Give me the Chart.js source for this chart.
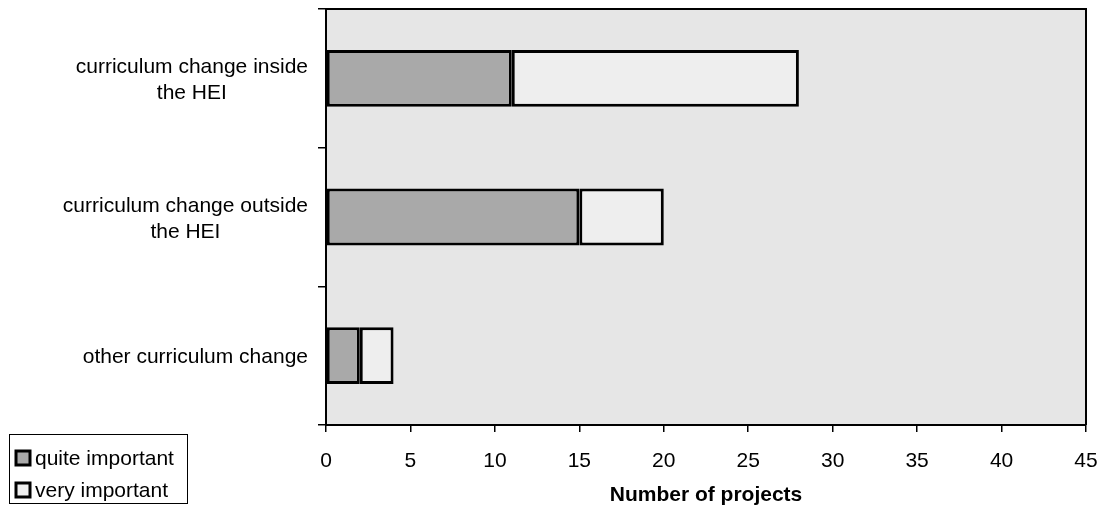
<!DOCTYPE html>
<html>
<head>
<meta charset="utf-8">
<script src="https://cdn.jsdelivr.net/npm/chart.js@4/dist/chart.umd.min.js"></script>
<style>
  html, body { margin: 0; padding: 0; background: #fff; }
  #wrap { width: 1105px; height: 507px; }
</style>
</head>
<body>
<div id="wrap"><canvas id="projChart" width="1105" height="507"></canvas></div>
<script>
// chart data
const categories = [
  ['curriculum change inside', 'the HEI'],
  ['curriculum change outside', 'the HEI'],
  ['other curriculum change']
];
const quiteImportant = [11, 15, 2];
const veryImportant = [17, 5, 2];
const xTicks = [0, 5, 10, 15, 20, 25, 30, 35, 40, 45];
const seriesNames = ['quite important', 'very important'];
const axisTitle = 'Number of projects';

const FONT = 'Liberation Sans, Arial, Helvetica, sans-serif';

// grey plot background + top/right frame
const framePlugin = {
  id: 'frame',
  beforeDraw(chart) {
    const a = chart.chartArea, ctx = chart.ctx;
    ctx.save();
    ctx.fillStyle = '#e6e6e6';
    ctx.fillRect(a.left, a.top, a.right - a.left, a.bottom - a.top);
    ctx.restore();
  },
  afterDraw(chart) {
    const a = chart.chartArea, ctx = chart.ctx;
    ctx.save();
    ctx.strokeStyle = '#000';
    ctx.lineWidth = 2;
    ctx.beginPath();
    ctx.moveTo(a.left, a.top);
    ctx.lineTo(a.right, a.top);
    ctx.lineTo(a.right, a.bottom);
    ctx.stroke();
    ctx.restore();
  }
};

// category labels: block right-aligned, lines centred on each other
const catLabels = {
  id: 'catLabels',
  afterDraw(chart) {
    const ctx = chart.ctx, y = chart.scales.y;
    ctx.save();
    ctx.font = '21px ' + FONT;
    ctx.fillStyle = '#000';
    ctx.textAlign = 'center';
    ctx.textBaseline = 'middle';
    const lh = 26, right = 308;
    chart.data.labels.forEach((lines, i) => {
      const cy = y.getPixelForValue(i) + 2;
      const w = Math.max(...lines.map(l => ctx.measureText(l).width));
      const cx = right - w / 2;
      lines.forEach((l, j) => {
        ctx.fillText(l, cx, cy + (j - (lines.length - 1) / 2) * lh);
      });
    });
    ctx.restore();
  }
};

// boxed legend in the lower left corner
const boxLegend = {
  id: 'boxLegend',
  afterDraw(chart) {
    const ctx = chart.ctx;
    ctx.save();
    ctx.strokeStyle = '#000';
    ctx.lineWidth = 1;
    ctx.strokeRect(9.5, 434.5, 178, 69);
    ctx.font = '21px ' + FONT;
    ctx.textBaseline = 'middle';
    chart.data.datasets.forEach((ds, i) => {
      const cy = 458 + i * 32;
      ctx.fillStyle = ds.backgroundColor;
      ctx.fillRect(16, cy - 7, 14, 14);
      ctx.lineWidth = 3;
      ctx.strokeRect(16, cy - 7, 14, 14);
      ctx.fillStyle = '#000';
      ctx.fillText(ds.label, 35, cy + 1);
    });
    ctx.restore();
  }
};

new Chart(document.getElementById('projChart'), {
  type: 'bar',
  data: {
    labels: categories,
    datasets: [
      {
        label: seriesNames[0],
        data: quiteImportant,
        backgroundColor: '#a9a9a9',
        borderColor: '#000',
        borderWidth: 3,
        borderSkipped: false
      },
      {
        label: seriesNames[1],
        data: veryImportant,
        backgroundColor: '#eeeeee',
        borderColor: '#000',
        borderWidth: 3,
        borderSkipped: false
      }
    ]
  },
  options: {
    indexAxis: 'y',
    responsive: false,
    animation: false,
    categoryPercentage: 1,
    barPercentage: 0.41,
    layout: { padding: { top: 9, right: 0, left: 0, bottom: 0 } },
    plugins: { legend: { display: false }, tooltip: { enabled: false } },
    scales: {
      x: {
        stacked: true,
        min: 0,
        max: 45,
        afterBuildTicks: (s) => { s.ticks = xTicks.map(v => ({ value: v })); },
        afterFit: (s) => { s.height = 82; s.paddingRight = 19; },
        grid: { drawOnChartArea: false, color: '#000', tickLength: 7, lineWidth: 1.5 },
        border: { color: '#000', width: 2 },
        ticks: { color: '#000', font: { family: FONT, size: 21 }, padding: 17 },
        title: {
          display: true,
          text: axisTitle,
          color: '#000',
          font: { family: FONT, size: 21, weight: 'bold' },
          padding: { top: 0, bottom: -1 }
        }
      },
      y: {
        stacked: true,
        afterFit: (s) => { s.width = 326; },
        grid: { drawOnChartArea: false, color: '#000', tickLength: 8, lineWidth: 1.5, offset: true },
        border: { color: '#000', width: 2 },
        ticks: { display: false }
      }
    }
  },
  plugins: [framePlugin, catLabels, boxLegend]
});
</script>
</body>
</html>
